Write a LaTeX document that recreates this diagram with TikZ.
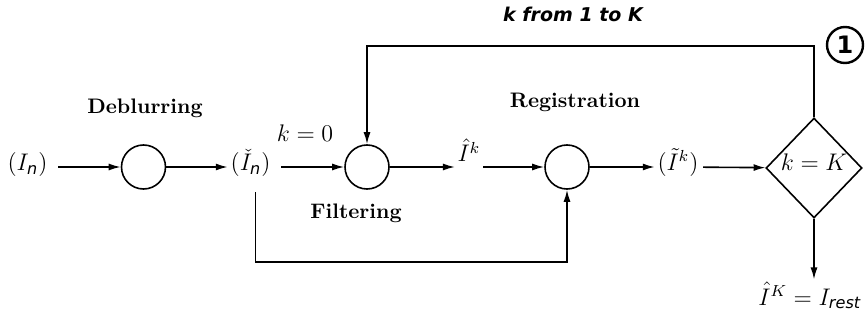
\documentclass[tikz,border=0pt]{standalone}
\usepackage{amsmath}
\usepackage{fontspec}
\newfontfamily\dejavu{DejaVu Sans}
\usetikzlibrary{shapes.geometric, arrows.meta}
\begin{document}
\begin{tikzpicture}[x=0.5pt, y=-0.5pt, >={Latex[length=6pt,width=3.5pt]}, line width=0.8pt,
    blk/.style={draw, circle, minimum size=22pt, inner sep=0pt},
    sig/.style={inner sep=1pt, font=\fontsize{12}{14}\selectfont, text height=8pt, text depth=4.5pt},
    stage/.style={font=\fontsize{10.5}{12}\selectfont\bfseries}]
  \useasboundingbox (0,0) rectangle (866,320);
  % main row: signals and blocks
  \node[sig] (in) at (27.5,167) {$(I_{\text{\dejavu\itshape n}})$};
  \node[blk] (deblur) at (143.5,167) {};
  \node[sig] (inb) at (250.5,167) {$(\check{I}_{\text{\dejavu\itshape n}})$};
  \node[blk] (filt) at (367,167) {};
  \node[sig, text height=4pt, text depth=9pt] (ihat) at (469,167) {$\hat{I}^k$};
  \node[blk] (reg) at (567,167) {};
  \node[sig] (itil) at (678,167) {$(\tilde{I}^k)$};
  \node[draw, diamond, minimum width=48pt, minimum height=50pt, inner sep=0pt,
    label={[yshift=3pt, font=\fontsize{12}{14}\selectfont]center:$k=K$}] (test) at (814,168) {};
  \node[sig, anchor=base east, text height=, text depth=, font=\fontsize{11.5}{14}\selectfont] (out) at (864,305)
    {$\hat{I}^K = I_{\text{\dejavu\itshape rest}}$};
  % stage names
  \node[stage] (deblurlbl) at (145,108) {Deblurring};
  \node[stage] (filtlbl) at (356,213) {Filtering};
  \node[stage] (reglbl) at (575,102) {Registration};
  \node[font=\fontsize{12}{14}\selectfont] (init) at (305,133) {$k=0$};
  % the loop
  \node[font=\fontsize{9.5}{11}\selectfont\dejavu\bfseries\itshape] (loop) at (573,14) {k from 1 to K};
  \node[draw, circle, line width=1.2pt, minimum size=18pt, inner sep=0pt,
    font=\dejavu\bfseries\large] (one) at (845,45) {1};
  \coordinate (low) at (0,262);
  % connectors
  \draw[->, shorten <=4pt] (in) -- (deblur);
  \draw[->] (deblur) -- (inb);
  \draw[->, shorten <=4pt] (inb) -- (filt);
  \draw[->] (filt) -- (ihat);
  \draw[->] (ihat) -- (reg);
  \draw[->] (reg) -- (itil);
  \draw[->, shorten <=1pt] (itil) -- (test);
  \draw[->] (test.south) -- (test.south |- out.north);
  \draw[->] (test.north) -- ++(0,-71) -| (filt.north);
  \draw[->] ([xshift=2.5pt, yshift=-5pt]inb.south) -- ([xshift=2.5pt]inb.south |- low) -| (reg.south);
\end{tikzpicture}
\end{document}
